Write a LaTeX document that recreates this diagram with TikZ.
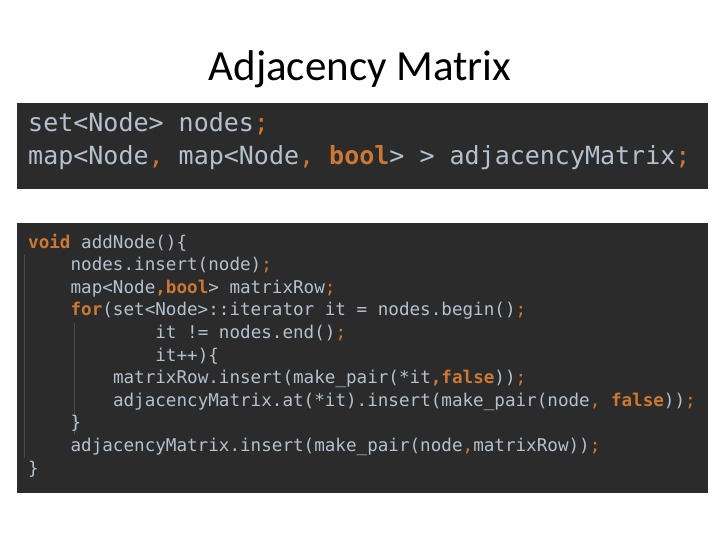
\documentclass[tikz,border=0pt]{standalone}
\usepackage{fontspec}
\setmainfont{Carlito}
\setmonofont{DejaVu Sans Mono}
\definecolor{bgc}{HTML}{2B2B2B}
\definecolor{txt}{HTML}{B3C1CF}
\definecolor{org}{HTML}{CC7832}
\definecolor{guide}{HTML}{4A4A4A}
\newcommand{\kw}[1]{\textcolor{org}{\textbf{#1}}}
\newcommand{\pn}[1]{\textcolor{org}{#1}}
\begin{document}
\begin{tikzpicture}[x=1pt,y=-1pt,
  codebig/.style={anchor=base west,inner sep=0pt,text=txt,font=\ttfamily\fontsize{25}{25}\selectfont},
  code/.style={anchor=base west,inner sep=0pt,text=txt,font=\ttfamily\fontsize{17.6}{17.6}\selectfont},
  panel/.style={fill=bgc,draw=none}]
\useasboundingbox (0,0) rectangle (720,540);
\fill[white] (0,0) rectangle (720,540);
\node[anchor=base,font=\fontsize{43}{43}\selectfont,inner sep=0pt] (title) at (360,81) {Adjacency Matrix};
\path[panel] (17,103) rectangle (708,189);
\node[codebig] (a1) at (28,132) {set<Node> nodes\pn{;}};
\node[codebig] (a2) at (28,165) {map<Node\pn{,} map<Node\pn{,} \kw{bool}> > adjacencyMatrix\pn{;}};
\path[panel] (17,223) rectangle (708,493);
\draw[guide,line width=0.8pt] (24,255) -- (24,458);
\draw[guide,line width=0.8pt] (74,323) -- (74,435);
\def\cw{10.6}
\node[code] (b1) at (28,248) {\kw{void} addNode()\{};
\node[code] (b2) at (28+4*\cw,270.6) {nodes.insert(node)\pn{;}};
\node[code] (b3) at (28+4*\cw,293.2) {map<Node\kw{,bool}> matrixRow\pn{;}};
\node[code] (b4) at (28+4*\cw,315.8) {\kw{for}(set<Node>::iterator it = nodes.begin()\pn{;}};
\node[code] (b5) at (28+12*\cw,338.4) {it != nodes.end()\pn{;}};
\node[code] (b6) at (28+12*\cw,361) {it++)\{};
\node[code] (b7) at (28+8*\cw,383.6) {matrixRow.insert(make\_pair(*it\kw{,false}))\pn{;}};
\node[code] (b8) at (28+8*\cw,406.2) {adjacencyMatrix.at(*it).insert(make\_pair(node\pn{,} \kw{false}))\pn{;}};
\node[code] (b9) at (28+4*\cw,428.8) {\}};
\node[code] (b10) at (28+4*\cw,451.4) {adjacencyMatrix.insert(make\_pair(node\pn{,}matrixRow))\pn{;}};
\node[code] (b11) at (28,474) {\}};
\end{tikzpicture}
\end{document}
